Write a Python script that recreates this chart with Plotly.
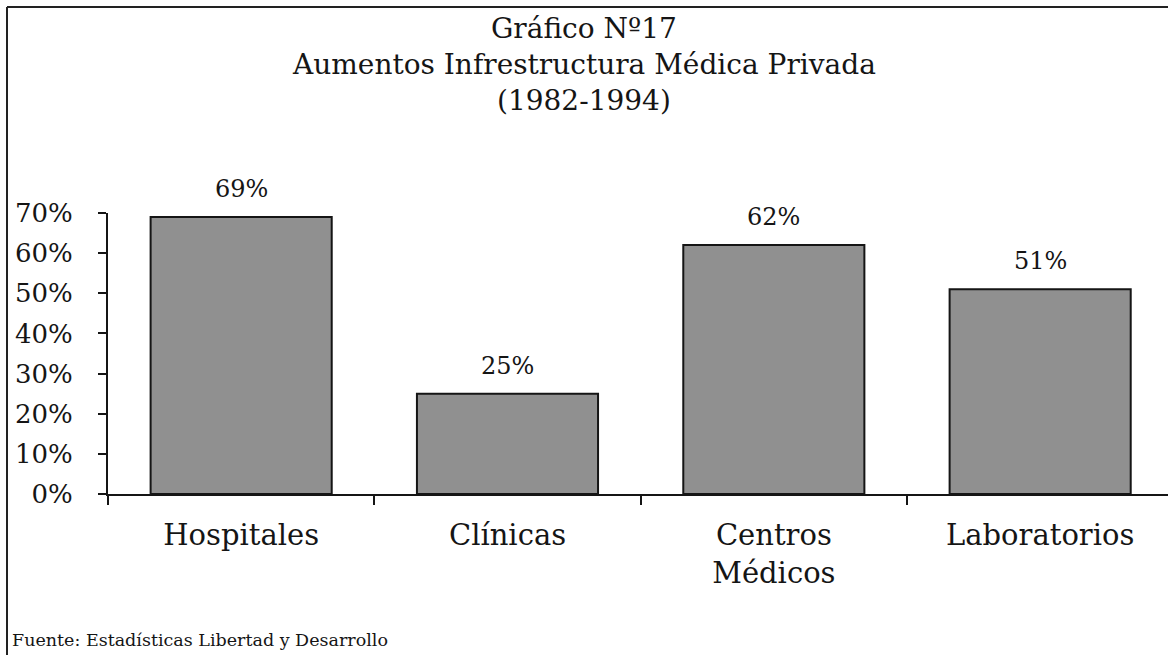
import plotly.graph_objects as go

categories = ["Hospitales", "Clínicas", "Centros<br>Médicos", "Laboratorios"]
values = [69, 25, 62, 51]
labels = ["69%", "25%", "62%", "51%"]
y_ticks = [0, 10, 20, 30, 40, 50, 60, 70]
y_ticktext = [f"{v}%" for v in y_ticks]

title_lines = ["Gráfico Nº17", "Aumentos Infrestructura Médica Privada", "(1982-1994)"]
source = "Fuente: Estadísticas Libertad y Desarrollo"

font_family = "DejaVu Serif, Palatino Linotype, Book Antiqua, serif"
ink = "#151515"

W, H = 1168, 655
ML, MT, MB = 108, 213, 161
plot_w = W - ML
plot_h = H - MT - MB


def px_x(x):
    return (x - ML) / plot_w


def px_y(y):
    return (H - MB - y) / plot_h


fig = go.Figure()

fig.add_trace(
    go.Bar(
        x=categories,
        y=values,
        width=0.68,
        marker=dict(color="#909090", line=dict(color=ink, width=2)),
        hoverinfo="skip",
    )
)

# value labels above bars
for cat, val, lab in zip(categories, values, labels):
    fig.add_annotation(
        x=cat, y=val, text=lab, showarrow=False,
        yanchor="bottom", yshift=12,
        font=dict(family=font_family, size=24, color=ink),
    )

# title lines
for line, ypix in zip(title_lines, [28, 64, 101]):
    fig.add_annotation(
        x=px_x(584), xref="paper", y=px_y(ypix), yref="paper",
        xanchor="center", yanchor="middle",
        text=line, showarrow=False,
        font=dict(family=font_family, size=28, color=ink),
    )

fig.add_annotation(
    x=px_x(10), xref="paper", y=px_y(640), yref="paper", text=source, showarrow=False,
    xanchor="left", yanchor="middle",
    font=dict(family=font_family, size=17.5, color=ink),
)

fig.update_layout(
    width=W,
    height=H,
    margin=dict(l=ML, r=0, t=MT, b=MB),
    paper_bgcolor="white",
    plot_bgcolor="white",
    showlegend=False,
    font=dict(family=font_family, size=24, color=ink),
    xaxis=dict(
        type="category",
        range=[-0.5, 3.48],
        showline=True, linecolor=ink, linewidth=2,
        ticks="outside", tickson="boundaries", ticklen=9, tickwidth=2, tickcolor=ink,
        ticklabelstandoff=14,
        showgrid=False,
        tickfont=dict(size=29),
    ),
    yaxis=dict(
        range=[0, 70],
        tickvals=y_ticks, ticktext=y_ticktext,
        showline=True, linecolor=ink, linewidth=2,
        ticks="outside", ticklen=8, tickwidth=2, tickcolor=ink,
        ticklabelstandoff=20,
        showgrid=False, zeroline=False,
        tickfont=dict(size=26),
    ),
    xaxis2=dict(
        overlaying="x", anchor="y",
        range=[-0.5, 3.48],
        tickvals=[-0.5, 0.5, 1.5, 2.5],
        ticks="inside", ticklen=9, tickwidth=2, tickcolor=ink,
        showticklabels=False, showgrid=False, zeroline=False, showline=False,
    ),
    yaxis2=dict(
        overlaying="y", anchor="x", side="left",
        range=[0, 70],
        tickvals=y_ticks,
        ticks="inside", ticklen=9, tickwidth=2, tickcolor=ink,
        showticklabels=False, showgrid=False, zeroline=False, showline=False,
    ),
)

# frame lines (top and left)
fig.add_shape(type="line", xref="paper", yref="paper",
              x0=px_x(7), x1=1.01, y0=px_y(7), y1=px_y(7),
              line=dict(color="#222222", width=2))
fig.add_shape(type="line", xref="paper", yref="paper",
              x0=px_x(7), x1=px_x(7), y0=px_y(7), y1=px_y(H + 5),
              line=dict(color="#222222", width=2))

fig.write_html(
    "out.html",
    config={"displayModeBar": False},
    post_script="document.body.style.margin='0';",
)
